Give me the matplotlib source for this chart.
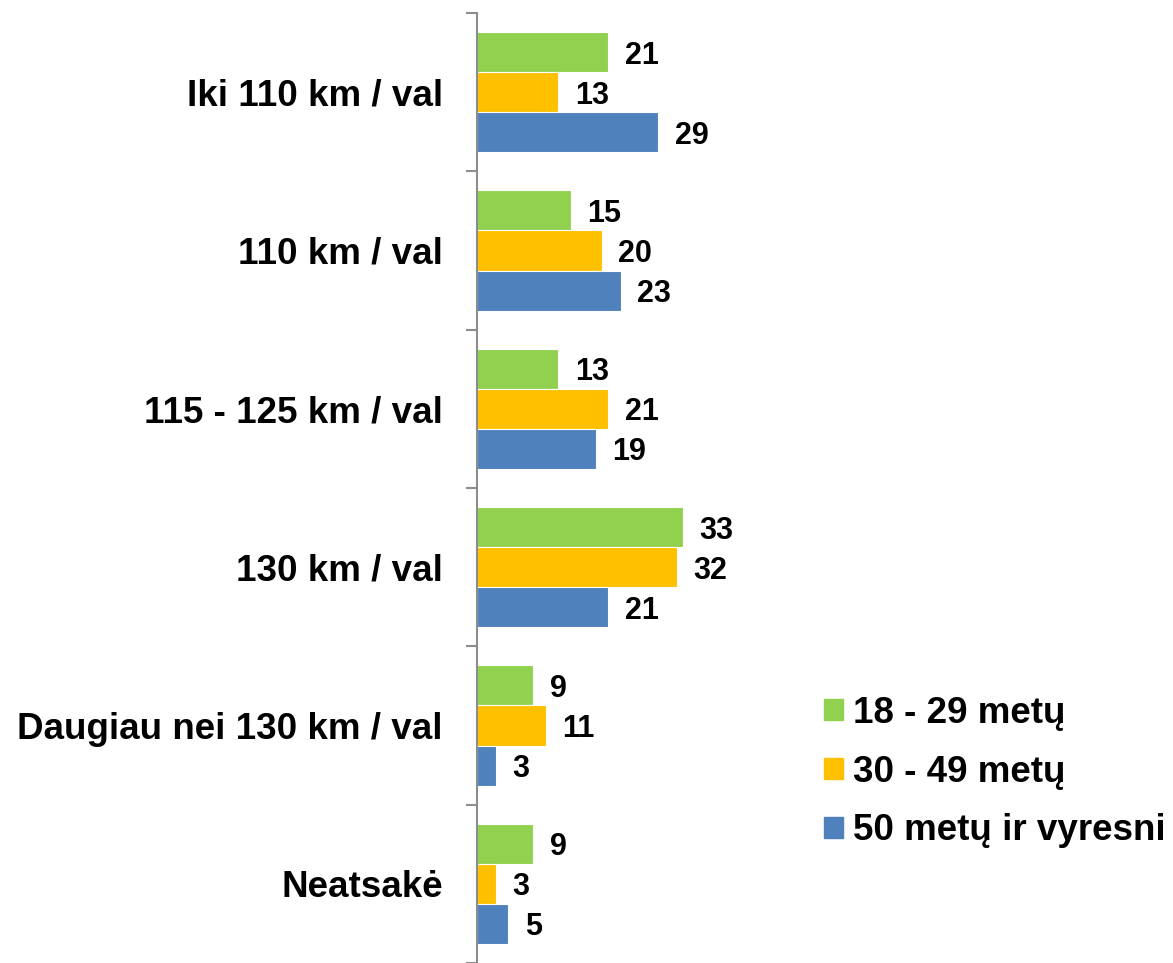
import matplotlib
matplotlib.use("Agg")
import matplotlib.pyplot as plt
import numpy as np

categories = ["Iki 110 km / val", "110 km / val", "115 - 125 km / val",
              "130 km / val", "Daugiau nei 130 km / val", "Neatsakė"]
series_names = ["18 - 29 metų", "30 - 49 metų", "50 metų ir vyresni"]
v_18_29 = [21, 15, 13, 33, 9, 9]
v_30_49 = [13, 20, 21, 32, 11, 3]
v_50 = [29, 23, 19, 21, 3, 5]
colors = ["#92D050", "#FFC000", "#4F81BD"]

plt.rcParams['font.family'] = ['Liberation Sans', 'DejaVu Sans']
W, H = 1173, 963
fig = plt.figure(figsize=(W / 100, H / 100), dpi=100)
ax_left = 477 / W
ax_top = 1 - 13 / H
xmax = 50
px_per_unit = 6.24
ax = fig.add_axes([ax_left, 0, xmax * px_per_unit / W, ax_top])

n = len(categories)
bh = 0.2527
data = [v_18_29, v_30_49, v_50]
for i, (vals, col, name) in enumerate(zip(data, colors, series_names)):
    y = np.arange(n) + 0.5 + (i - 1) * bh
    ax.barh(y, vals, height=bh, color=col, edgecolor="white",
            linewidth=0.8, label=name)
    for yy, v in zip(y, vals):
        ax.annotate(str(v), (v, yy), xytext=(12, -2.5), textcoords="offset points",
                    ha="left", va="center", fontsize=22, fontweight="bold",
                    color="black", annotation_clip=False)

ax.set_xlim(0, xmax)
ax.set_ylim(n, 0)
ax.set_yticks(np.arange(n + 1))
ax.set_yticklabels([])
ax.set_yticks(np.arange(n) + 0.5, minor=True)
ax.set_yticklabels(categories, minor=True, fontsize=26.5, fontweight="bold")
ax.tick_params(axis="y", which="major", length=8, width=1.5, color="#8C8C8C", direction="out")
ax.tick_params(axis="y", which="minor", length=0, pad=24.5)
ax.set_xticks([])
for s in ["top", "right", "bottom"]:
    ax.spines[s].set_visible(False)
ax.spines["left"].set_color("#8C8C8C")
ax.spines["left"].set_linewidth(1.5)

# legend
handles = [plt.Rectangle((0, 0), 1, 1, color=c) for c in colors]
leg = fig.legend(handles, series_names, loc="center left",
                 bbox_to_anchor=(824 / W, 1 - 772 / H), frameon=False,
                 prop={"size": 26.5, "weight": "bold"}, handlelength=0.52,
                 handleheight=0.52, handletextpad=0.27, labelspacing=0.65,
                 borderpad=0, borderaxespad=0)

fig.savefig("out.png", dpi=100)
